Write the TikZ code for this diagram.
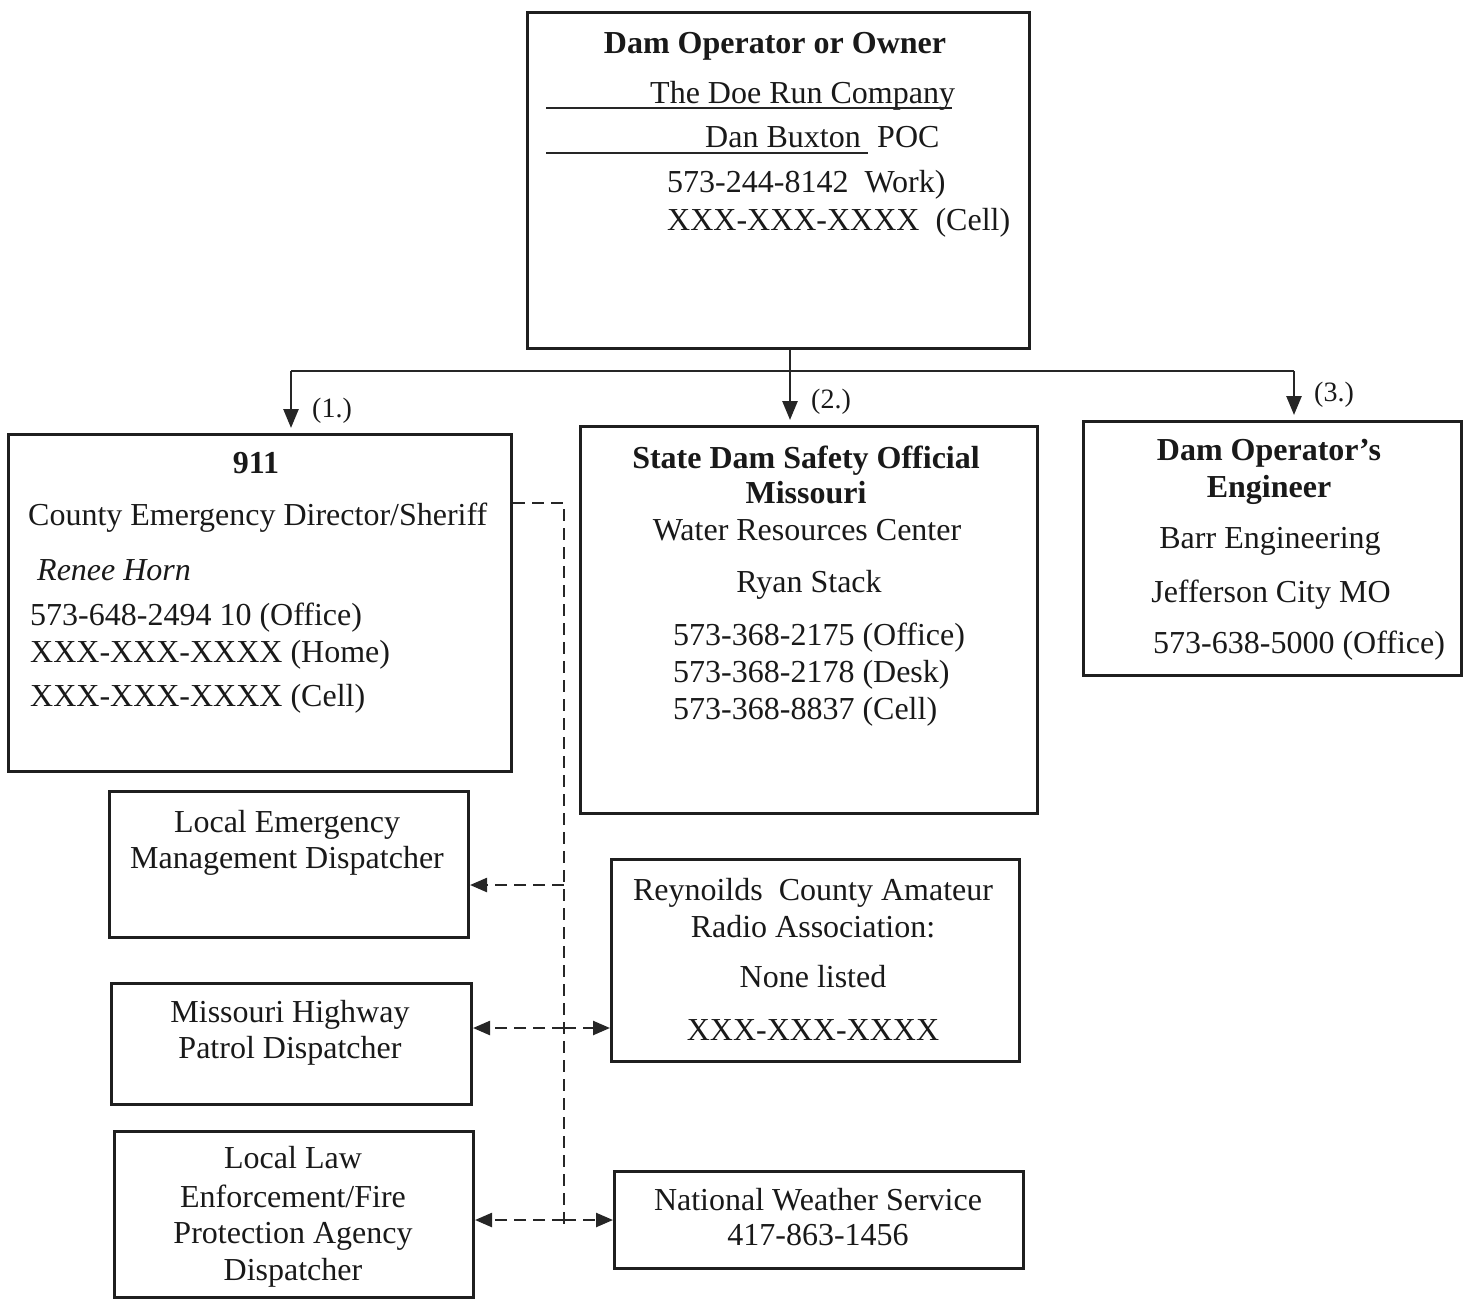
\documentclass[tikz,border=0pt]{standalone}
\usepackage{fontspec}
\setmainfont{Liberation Serif}
\usetikzlibrary{arrows.meta}
\begin{document}
\begin{tikzpicture}[x=1pt,y=-1pt,
  box/.style={draw=black!88, line width=3pt, anchor=north west, inner sep=0pt},
  txt/.style={inner sep=0pt, text=black!90, font=\fontsize{32}{38}\selectfont},
  lbl/.style={inner sep=0pt, text=black!90, font=\fontsize{28}{34}\selectfont, anchor=base west},
  arr/.style={draw=black!85, line width=2.6pt, -{Triangle[length=19pt,width=15pt]}, shorten >=5pt},
  link/.style={draw=black!85, line width=2.6pt},
  dashlink/.style={draw=black!85, line width=2.4pt, dash pattern=on 12pt off 7pt},
  darr/.style={dashlink, -{Triangle[length=17pt,width=14pt]}}
]
\useasboundingbox (0,0) rectangle (1467,1299);

% ---------- boxes ----------
\node[box, minimum width=502pt, minimum height=336pt] (owner) at (526,11) {};
\node[box, minimum width=503pt, minimum height=337pt] (ec)    at (7,433) {};
\node[box, minimum width=457pt, minimum height=387pt] (state) at (579,425) {};
\node[box, minimum width=378pt, minimum height=254pt] (eng)   at (1082,420) {};
\node[box, minimum width=359pt, minimum height=146pt] (lem)   at (108,790) {};
\node[box, minimum width=360pt, minimum height=121pt] (mhp)   at (110,982) {};
\node[box, minimum width=359pt, minimum height=166pt] (lle)   at (113,1130) {};
\node[box, minimum width=408pt, minimum height=202pt] (radio) at (610,858) {};
\node[box, minimum width=409pt, minimum height=97pt]  (nws)   at (613,1170) {};

% ---------- owner text ----------
\node[txt, anchor=base] (o1) at (775,53) {\bfseries Dam Operator or Owner};
\node[txt, anchor=base west] (o2) at (650,103) {The Doe Run Company};
\node[txt, anchor=base west] (o3) at (705,147) {Dan Buxton};
\node[txt, anchor=base west] (o4) at (877,147) {POC};
\node[txt, anchor=base west] (o5) at (667,192) {573-244-8142\ \ Work)};
\node[txt, anchor=base west] (o6) at (667,230) {XXX-XXX-XXXX\ \ (Cell)};
\coordinate (u1a) at (546,108); \coordinate (u1b) at (952,108);
\coordinate (u2a) at (546,153); \coordinate (u2b) at (868,153);
\draw[line width=1.8pt, black!85] (u1a) -- (u1b);
\draw[line width=1.8pt, black!85] (u2a) -- (u2b);

% ---------- 911 text ----------
\node[txt, anchor=base] (e1) at (256,473) {\bfseries 911};
\node[txt, anchor=base west] (e2) at (28,525) {County Emergency Director/Sheriff};
\node[txt, anchor=base west] (e3) at (37,580) {\itshape Renee Horn};
\node[txt, anchor=base west] (e4) at (30,625) {573-648-2494 10 (Office)};
\node[txt, anchor=base west] (e5) at (30,662) {XXX-XXX-XXXX (Home)};
\node[txt, anchor=base west] (e6) at (30,706) {XXX-XXX-XXXX (Cell)};

% ---------- state text ----------
\node[txt, anchor=base] (s1) at (806,468) {\bfseries State Dam Safety Official};
\node[txt, anchor=base] (s2) at (806,503) {\bfseries Missouri};
\node[txt, anchor=base] (s3) at (807,540) {Water Resources Center};
\node[txt, anchor=base] (s4) at (809,592) {Ryan Stack};
\node[txt, anchor=base west] (s5) at (673,645) {573-368-2175 (Office)};
\node[txt, anchor=base west] (s6) at (673,682) {573-368-2178 (Desk)};
\node[txt, anchor=base west] (s7) at (673,719) {573-368-8837 (Cell)};

% ---------- engineer text ----------
\node[txt, anchor=base] (g1) at (1269,460) {\bfseries Dam Operator’s};
\node[txt, anchor=base] (g2) at (1269,497) {\bfseries Engineer};
\node[txt, anchor=base] (g3) at (1270,548) {Barr Engineering};
\node[txt, anchor=base] (g4) at (1271,602) {Jefferson City MO};
\node[txt, anchor=base west] (g5) at (1153,653) {573-638-5000 (Office)};

% ---------- lower left boxes ----------
\node[txt, anchor=base] (l1) at (287,832) {Local Emergency};
\node[txt, anchor=base] (l2) at (287,868) {Management Dispatcher};
\node[txt, anchor=base] (m1) at (290,1022) {Missouri Highway};
\node[txt, anchor=base] (m2) at (290,1058) {Patrol Dispatcher};
\node[txt, anchor=base] (f1) at (293,1168) {Local Law};
\node[txt, anchor=base] (f2) at (293,1207) {Enforcement/Fire};
\node[txt, anchor=base] (f3) at (293,1243) {Protection Agency};
\node[txt, anchor=base] (f4) at (293,1280) {Dispatcher};

% ---------- lower right boxes ----------
\node[txt, anchor=base] (r1) at (813,900) {Reynoilds\ \ County Amateur};
\node[txt, anchor=base] (r2) at (813,937) {Radio Association:};
\node[txt, anchor=base] (r3) at (813,987) {None listed};
\node[txt, anchor=base] (r4) at (813,1040) {XXX-XXX-XXXX};
\node[txt, anchor=base] (n1) at (818,1210) {National Weather Service};
\node[txt, anchor=base] (n2) at (818,1245) {417-863-1456};

% ---------- solid connectors ----------
\coordinate (j)  at (790,371);
\coordinate (jl) at (291,371);
\coordinate (jr) at (1294,371);
\draw[link] (j |- owner.south) -- (j);
\draw[link] (jl) -- (jr);
\draw[arr] (jl) -- (jl |- ec.north);
\draw[arr] (j) -- (j |- state.north);
\draw[arr] (jr) -- (jr |- eng.north);
\node[lbl] (k1) at (312,417) {(1.)};
\node[lbl] (k2) at (811,408) {(2.)};
\node[lbl] (k3) at (1314,401) {(3.)};

% ---------- dashed connectors ----------
\coordinate (d0) at (564,503);
\coordinate (d1) at (564,1228);
\coordinate (b1) at (564,885);
\coordinate (b2) at (564,1028);
\coordinate (b3) at (564,1220);
\draw[dashlink] (d0 -| ec.east) -- (d0) -- (d1);
\draw[darr] (b1) -- (b1 -| lem.east);
\draw[darr] (b2) -- (b2 -| mhp.east);
\draw[darr] (b2) -- (b2 -| radio.west);
\draw[darr] (b3) -- (b3 -| lle.east);
\draw[darr] (b3) -- (b3 -| nws.west);
\end{tikzpicture}
\end{document}
